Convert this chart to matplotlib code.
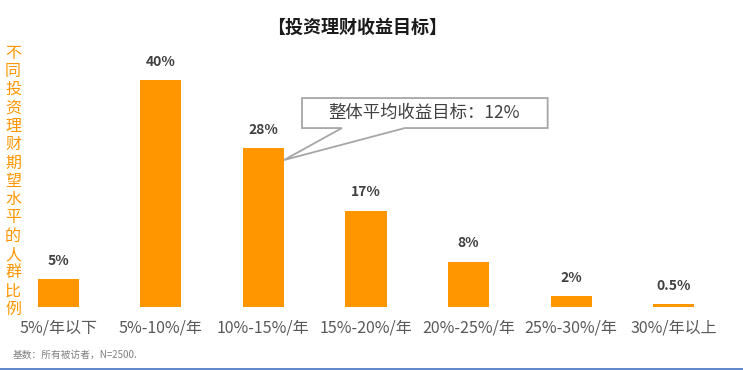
import matplotlib
matplotlib.use("Agg")
import matplotlib.pyplot as plt
from matplotlib.patches import Polygon
from matplotlib.lines import Line2D

plt.rcParams['font.family'] = ['Noto Sans CJK SC', 'DejaVu Sans']

categories = ["5%/年以下", "5%-10%/年", "10%-15%/年", "15%-20%/年", "20%-25%/年", "25%-30%/年", "30%/年以上"]
values = [5, 40, 28, 17, 8, 2, 0.5]
value_labels = ["5%", "40%", "28%", "17%", "8%", "2%", "0.5%"]
title = "【投资理财收益目标】"
ylabel = "不同投资理财期望水平的人群比例"
callout_text = "整体平均收益目标：12%"
footnote = "基数：所有被访者，N=2500."

orange = "#ff9600"

fig = plt.figure(figsize=(7.43, 3.70), dpi=100)
ax = fig.add_axes([0.0094, 0.1703, 0.9664, 0.6946])
x = list(range(len(categories)))
ax.bar(x, values, width=0.4, color=orange)
ax.set_xlim(-0.5, 6.5)
ax.set_ylim(0, 45.3)
for s in ax.spines.values():
    s.set_visible(False)
ax.set_yticks([])
ax.set_xticks(x)
ax.set_xticklabels(categories, fontsize=11.5, color="#595959")
ax.tick_params(axis='x', length=0, pad=9)

for xi, v, lab in zip(x, values, value_labels):
    ax.annotate(lab, (xi, v), xytext=(0, 8), textcoords="offset points",
                ha="center", va="bottom", fontsize=10, fontweight="bold", color="#404040")

# callout
poly = [(2.376, 31.54), (2.765, 31.54), (2.2, 25.9), (3.379, 31.54), (4.771, 31.54),
        (4.771, 36.83), (2.376, 36.83)]
ax.add_patch(Polygon(poly, closed=True, facecolor="white", edgecolor="#a6a6a6", lw=1.3, zorder=3))
ax.text(3.57, 34.2, callout_text, ha="center", va="center", fontsize=12.5, color="#404040", zorder=4)

fig.text(0.4805, 0.927, title, ha="center", va="center", fontsize=13, fontweight="semibold", color="#1a1a1a")
fig.text(0.0175, 0.51, "\n".join(ylabel), ha="center", va="center", fontsize=11.5,
         color=orange, linespacing=1.1)
fig.text(0.0175, 0.04, footnote, ha="left", va="center", fontsize=7, color="#808080")
fig.add_artist(Line2D([0, 1], [0.002, 0.002], transform=fig.transFigure, color="#4472c4", lw=1.2))

fig.savefig("out.png", dpi=100)
